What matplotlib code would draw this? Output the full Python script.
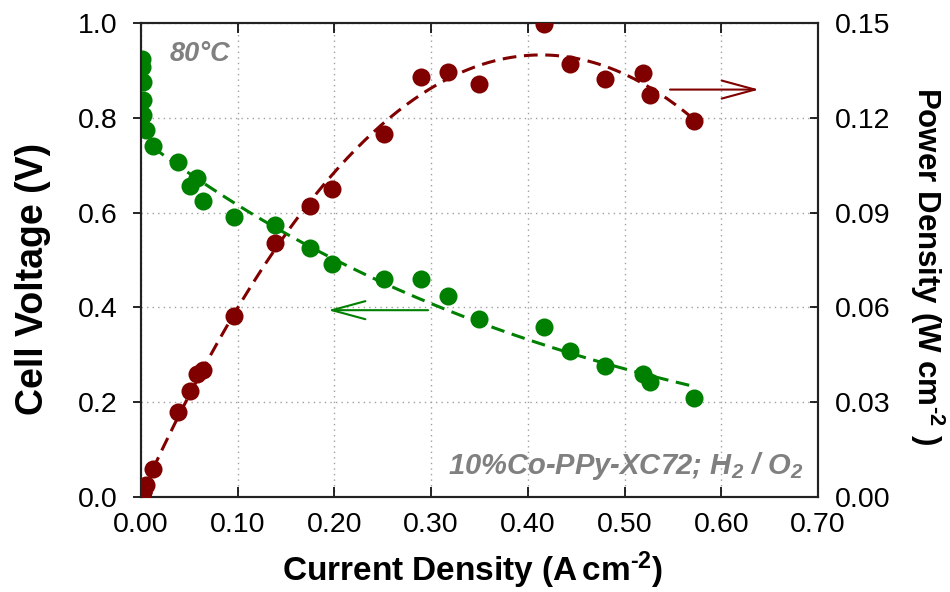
import numpy as np
import matplotlib
matplotlib.use("Agg")
import matplotlib.pyplot as plt

plt.rcParams['font.family'] = ['Liberation Sans', 'DejaVu Sans']
plt.rcParams['mathtext.fontset'] = 'custom'
plt.rcParams['mathtext.rm'] = 'Liberation Sans:bold'
plt.rcParams['mathtext.it'] = 'Liberation Sans:italic'
plt.rcParams['mathtext.bf'] = 'Liberation Sans:bold'

# Data
current = [0.001, 0.001, 0.002, 0.002, 0.002, 0.005, 0.012, 0.038, 0.051, 0.058,
           0.064, 0.0965, 0.139, 0.175, 0.197, 0.251, 0.290, 0.317, 0.350, 0.417,
           0.444, 0.480, 0.519, 0.526, 0.572]
voltage = [0.924, 0.907, 0.875, 0.839, 0.806, 0.775, 0.741, 0.707, 0.657, 0.674,
           0.625, 0.590, 0.574, 0.525, 0.492, 0.459, 0.459, 0.425, 0.375, 0.358,
           0.308, 0.276, 0.259, 0.242, 0.209]
power = [0.0009, 0.0009, 0.0017, 0.0017, 0.0016, 0.0037, 0.0087, 0.0268, 0.0335, 0.0388,
         0.0401, 0.0573, 0.0803, 0.0922, 0.0975, 0.1149, 0.1331, 0.1345, 0.1308, 0.1497,
         0.1370, 0.1323, 0.1343, 0.1273, 0.1191]

x_ticks = [0.0, 0.1, 0.2, 0.3, 0.4, 0.5, 0.6, 0.7]
x_ticklabels = ['0.00', '0.10', '0.20', '0.30', '0.40', '0.50', '0.60', '0.70']
v_ticks = [0.0, 0.2, 0.4, 0.6, 0.8, 1.0]
v_ticklabels = ['0.0', '0.2', '0.4', '0.6', '0.8', '1.0']
p_ticks = [0.0, 0.03, 0.06, 0.09, 0.12, 0.15]
p_ticklabels = ['0.00', '0.03', '0.06', '0.09', '0.12', '0.15']

green = '#008000'
red = '#800000'
gray = '#808080'

cur = np.array(current)
vol = np.array(voltage)
pw = np.array(power)

# Trend lines: exponential fit for voltage, quadratic fit for power
mask = cur >= 0.01
ev = np.polyfit(cur[mask], np.log(vol[mask]), 1)
cp = np.polyfit(cur, pw, 2)
xf = np.linspace(0.012, cur.max(), 200)

fig = plt.figure(figsize=(9.5, 5.92), dpi=100)
ax = fig.add_axes([141/950, 1-496.7/592, 677/950, 473.4/592])
ax2 = ax.twinx()

ax.plot(xf, np.exp(np.polyval(ev, xf)), color=green, lw=2.2, dashes=(4.5, 2.5), zorder=2)
ax.plot(cur, vol, 'o', color=green, ms=13, mec='none', zorder=3)
ax2.plot(xf, np.polyval(cp, xf), color=red, lw=2.2, dashes=(4.5, 2.5), zorder=2)
ax2.plot(cur, pw, 'o', color=red, ms=13, mec='none', zorder=3)

ax.set_xlim(0, 0.7)
ax.set_ylim(0, 1.0)
ax2.set_ylim(0, 0.15)
ax.set_xticks(x_ticks)
ax.set_xticklabels(x_ticklabels)
ax.set_yticks(v_ticks)
ax.set_yticklabels(v_ticklabels)
ax2.set_yticks(p_ticks)
ax2.set_yticklabels(p_ticklabels)

ax.grid(True, linestyle=(0, (1, 3)), color='#a0a0a0', linewidth=1.0)
ax.set_axisbelow(True)

ax.tick_params(axis='x', direction='in', top=True, length=7, width=1.2,
               labelsize=20.5, pad=11, colors='black')
ax.tick_params(axis='y', direction='out', length=6, width=1.2, labelsize=20.5, pad=11)
ax2.tick_params(axis='y', direction='in', length=6, width=1.2, labelsize=20.5, pad=12)

for a in (ax, ax2):
    for s in a.spines.values():
        s.set_linewidth(1.5)
        s.set_color('#222222')

ax.set_xlabel(r'Current Density (A$\,$cm$^{\text{-2}}$)', fontsize=24, fontweight='bold')
ax.xaxis.set_label_coords(0.49, -0.155)
ax.xaxis.label.set_va('center')
ax.set_ylabel('Cell Voltage (V)', fontsize=27, fontweight='bold')
ax.yaxis.set_label_coords((33-141)/677, 0.46)
ax.yaxis.label.set_va('center')
ax2.set_ylabel(r'Power Density (W cm$^{\text{-2}}$ )', fontsize=22.5, fontweight='bold', rotation=270)
ax2.yaxis.set_label_coords((927-141)/677, 0.488)
ax2.yaxis.label.set_va('center')

ax.text(0.043, 0.935, '80°C', transform=ax.transAxes, fontsize=19.5, fontweight='bold',
        fontstyle='italic', color=gray, va='center', ha='left')
ax.text(0.978, 0.065, r'10%Co-PPy-XC72; H$\mathregular{_2}$ / O$\mathregular{_2}$',
        transform=ax.transAxes, fontsize=21, fontweight='bold', fontstyle='italic',
        color=gray, va='center', ha='right')

ax.annotate('', xy=(0.1934, 0.394), xytext=(0.2968, 0.394),
            arrowprops=dict(arrowstyle='->,head_length=2.4,head_width=0.65',
                            color=green, lw=1.5, mutation_scale=10, shrinkA=0, shrinkB=0))
ax2.annotate('', xy=(0.639, 0.129), xytext=(0.547, 0.129),
             arrowprops=dict(arrowstyle='->,head_length=2.4,head_width=0.65',
                             color=red, lw=1.5, mutation_scale=10, shrinkA=0, shrinkB=0))

fig.savefig('out.png', dpi=100)
